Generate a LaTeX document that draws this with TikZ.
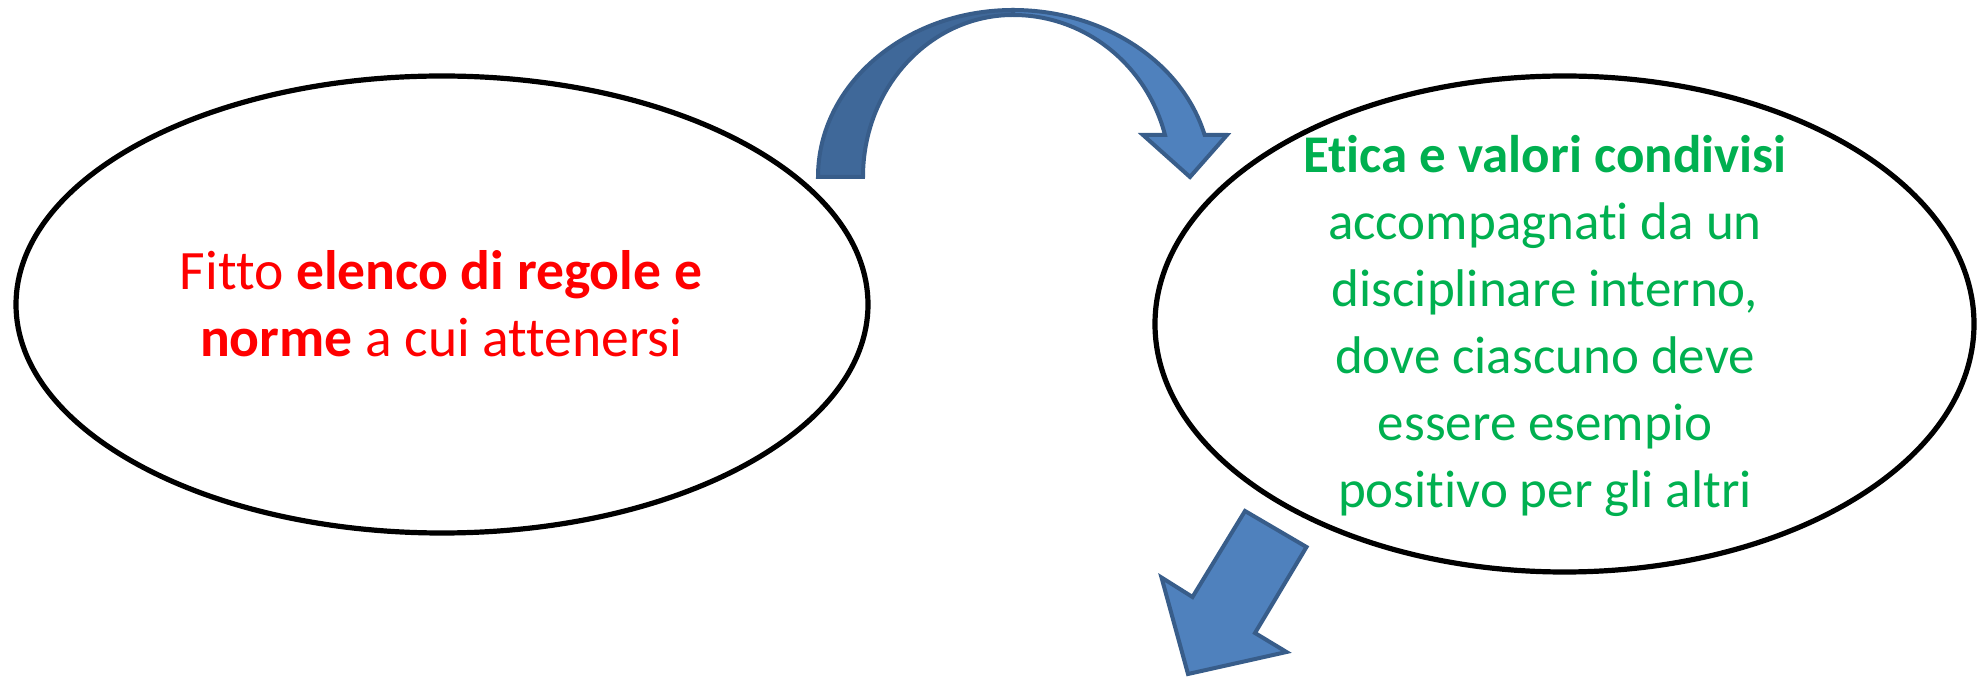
\documentclass[tikz,border=0pt]{standalone}
\usepackage{fontspec}
\setmainfont{Carlito}[Ligatures=NoCommon]
\usetikzlibrary{shapes.geometric}
\definecolor{arrowfill}{HTML}{4F81BD}
\definecolor{arrowback}{HTML}{3F6899}
\definecolor{arrowedge}{HTML}{385D8A}
\definecolor{textgreen}{HTML}{00B050}
\definecolor{textred}{HTML}{FF0000}
\tikzset{
  bubble/.style={ellipse, draw=black, line width=2.6pt, inner sep=0pt},
  blocktext/.style={align=center, inner sep=0pt},
  bigarrow/.style={fill=arrowfill, draw=arrowedge, line width=2pt, line join=miter},
}
\begin{document}
\begin{tikzpicture}[x=0.5pt, y=-0.5pt]
  \useasboundingbox (0,0) rectangle (1983,678);

  % the two ellipses
  \node[bubble, minimum width=426pt, minimum height=228.5pt] (left) at (442,304.5) {};
  \node[bubble, minimum width=409.5pt, minimum height=248pt] (right) at (1564.5,324) {};

  % texts inside them (anchored on the baseline of the last line)
  \node[blocktext, text=textred, anchor=base, font=\fontsize{27.8}{33.5}\selectfont] (lefttext) at (441,357)
    {Fitto \textbf{elenco di regole e}\\\textbf{norme} a cui attenersi};
  \node[blocktext, text=textgreen, anchor=base, font=\fontsize{26.5}{33.5}\selectfont] (righttext) at (1545,508)
    {\textbf{Etica e valori condivisi}\\accompagnati da un\\disciplinare interno,\\dove ciascuno deve\\essere esempio\\positivo per gli altri};

  % curved arrow: back band
  \path[bigarrow, fill=arrowback]
    (818,177) arc[start angle=180, end angle=270, x radius=195, y radius=167]
    -- (1013,15) arc[start angle=270, end angle=180, x radius=150, y radius=162]
    -- cycle;
  % curved arrow: front band with head
  \path[bigarrow]
    (1013,10) arc[start angle=270, end angle=345.4, x radius=198, y radius=167]
    -- (1227,135) -- (1190,177) -- (1143,135) -- (1165,135)
    arc[start angle=344.97, end angle=270, x radius=157, y radius=162]
    -- cycle;

  % straight arrow pointing down-left
  \path[bigarrow]
    (1245,511) -- (1306.5,547) -- (1255,633) -- (1286.5,652)
    -- (1188,674) -- (1161.5,577.5) -- (1192.5,597) -- cycle;
\end{tikzpicture}
\end{document}
